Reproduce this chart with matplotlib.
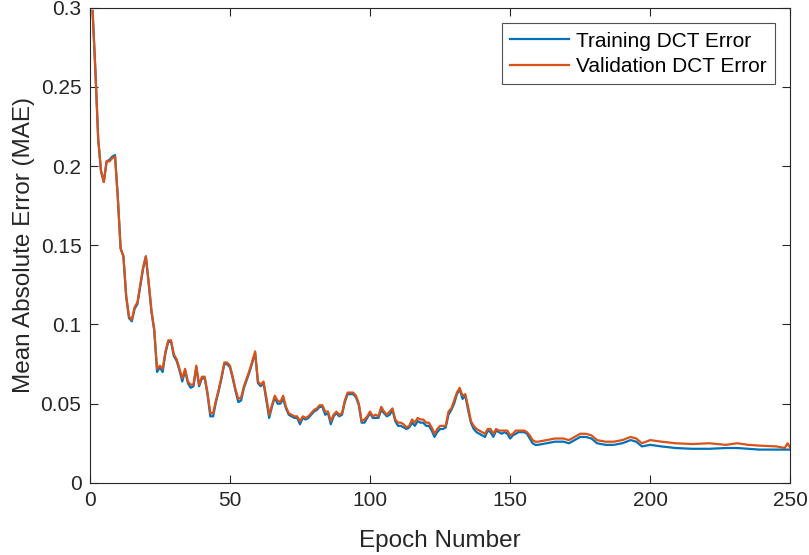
import numpy as np
import matplotlib.pyplot as plt

plt.rcParams['font.family'] = ['Liberation Sans', 'DejaVu Sans']

# epochs (dense early, sparser in the flat tail)
epochs = list(range(1, 161)) + [163, 166, 169, 171, 173, 175, 177, 179, 181, 184,
                                187, 190, 193, 195, 197, 200, 204, 209, 215, 221,
                                227, 231, 235, 239, 245, 248, 249, 250]

train_mae = [
    0.298, 0.260, 0.217, 0.197, 0.190, 0.203, 0.204, 0.206, 0.207, 0.180,
    0.148, 0.143, 0.117, 0.104, 0.102, 0.110, 0.113, 0.124, 0.135, 0.143,
    0.126, 0.108, 0.096, 0.070, 0.073, 0.070, 0.082, 0.089, 0.089, 0.080,
    0.077, 0.071, 0.064, 0.071, 0.063, 0.060, 0.061, 0.073, 0.061, 0.066,
    0.066, 0.056, 0.042, 0.042, 0.051, 0.058, 0.066, 0.075, 0.075, 0.073,
    0.066, 0.058, 0.051, 0.052, 0.060, 0.065, 0.070, 0.076, 0.082, 0.063,
    0.061, 0.063, 0.052, 0.041, 0.048, 0.054, 0.050, 0.050, 0.053, 0.047,
    0.043, 0.042, 0.041, 0.041, 0.037, 0.041, 0.040, 0.041, 0.043, 0.045,
    0.046, 0.048, 0.048, 0.043, 0.044, 0.037, 0.042, 0.044, 0.042, 0.043,
    0.051, 0.056, 0.056, 0.056, 0.054, 0.049, 0.038, 0.038, 0.041, 0.044,
    0.041, 0.041, 0.041, 0.046, 0.044, 0.042, 0.043, 0.046, 0.039, 0.036,
    0.036, 0.035, 0.034, 0.035, 0.038, 0.036, 0.039, 0.038, 0.038, 0.036,
    0.036, 0.033, 0.029, 0.032, 0.034, 0.034, 0.035, 0.043, 0.046, 0.050,
    0.056, 0.059, 0.053, 0.055, 0.046, 0.038, 0.034, 0.032, 0.031, 0.030,
    0.029, 0.033, 0.032, 0.029, 0.033, 0.032, 0.031, 0.032, 0.031, 0.028,
    0.030, 0.031, 0.032, 0.032, 0.032, 0.031, 0.028, 0.025, 0.024, 0.024,
    0.025, 0.026, 0.026, 0.025, 0.027, 0.029, 0.029, 0.028, 0.025, 0.024,
    0.024, 0.025, 0.027, 0.026, 0.023, 0.024, 0.023, 0.022, 0.0215, 0.0215,
    0.022, 0.022, 0.0215, 0.021, 0.021, 0.021, 0.021, 0.021,
]

val_mae = [
    0.298, 0.260, 0.217, 0.197, 0.190, 0.203, 0.203, 0.205, 0.206, 0.180,
    0.148, 0.143, 0.118, 0.105, 0.103, 0.111, 0.114, 0.125, 0.136, 0.143,
    0.127, 0.109, 0.097, 0.072, 0.074, 0.072, 0.083, 0.090, 0.090, 0.081,
    0.078, 0.072, 0.066, 0.072, 0.064, 0.062, 0.062, 0.074, 0.062, 0.067,
    0.067, 0.057, 0.044, 0.044, 0.052, 0.059, 0.067, 0.076, 0.076, 0.074,
    0.067, 0.059, 0.053, 0.054, 0.061, 0.066, 0.071, 0.077, 0.083, 0.064,
    0.062, 0.064, 0.054, 0.043, 0.049, 0.055, 0.052, 0.051, 0.055, 0.048,
    0.044, 0.043, 0.042, 0.042, 0.039, 0.042, 0.041, 0.042, 0.044, 0.046,
    0.047, 0.049, 0.049, 0.045, 0.045, 0.039, 0.043, 0.045, 0.043, 0.044,
    0.052, 0.057, 0.057, 0.057, 0.055, 0.050, 0.039, 0.040, 0.042, 0.045,
    0.042, 0.043, 0.042, 0.048, 0.045, 0.043, 0.045, 0.047, 0.040, 0.038,
    0.038, 0.037, 0.035, 0.036, 0.040, 0.038, 0.041, 0.040, 0.040, 0.038,
    0.038, 0.035, 0.031, 0.034, 0.036, 0.036, 0.036, 0.045, 0.047, 0.052,
    0.057, 0.060, 0.055, 0.056, 0.048, 0.039, 0.036, 0.034, 0.033, 0.032,
    0.031, 0.034, 0.034, 0.031, 0.034, 0.033, 0.033, 0.033, 0.033, 0.030,
    0.031, 0.033, 0.033, 0.033, 0.033, 0.032, 0.030, 0.027, 0.026, 0.026,
    0.027, 0.028, 0.028, 0.027, 0.029, 0.031, 0.031, 0.030, 0.027, 0.026,
    0.026, 0.027, 0.029, 0.028, 0.025, 0.027, 0.026, 0.025, 0.0245, 0.025,
    0.024, 0.025, 0.024, 0.0235, 0.023, 0.022, 0.025, 0.022,
]

fig = plt.figure(figsize=(8.09, 5.55), dpi=100)
ax = fig.add_axes([0.111, 0.130, 0.866, 0.856])

ax.plot(epochs, train_mae, color='#0072BD', lw=1.6, label='Training DCT Error')
ax.plot(epochs, val_mae, color='#D95319', lw=1.6, label='Validation DCT Error')

ax.set_xlim(0, 250)
ax.set_ylim(0, 0.3)
ax.set_xticks([0, 50, 100, 150, 200, 250])
ax.set_yticks([0, 0.05, 0.1, 0.15, 0.2, 0.25, 0.3])
ax.set_yticklabels(['0', '0.05', '0.1', '0.15', '0.2', '0.25', '0.3'])
ax.tick_params(direction='in', top=True, right=True, labelsize=15,
               length=6, width=0.8, colors='#262626', pad=6)
for s in ax.spines.values():
    s.set_color('#262626')
    s.set_linewidth(0.8)

ax.set_xlabel('Epoch Number', fontsize=17.5, color='#262626', labelpad=14)
ax.set_ylabel('Mean Absolute Error (MAE)', fontsize=17.5, color='#262626', labelpad=4)

leg = ax.legend(loc='upper right', fontsize=15, fancybox=False,
                edgecolor='#262626', handlelength=2.8, handletextpad=0.35,
                borderaxespad=0.75, borderpad=0.4, labelspacing=0.3)
leg.get_frame().set_linewidth(0.8)

fig.savefig('out.png', dpi=100)
